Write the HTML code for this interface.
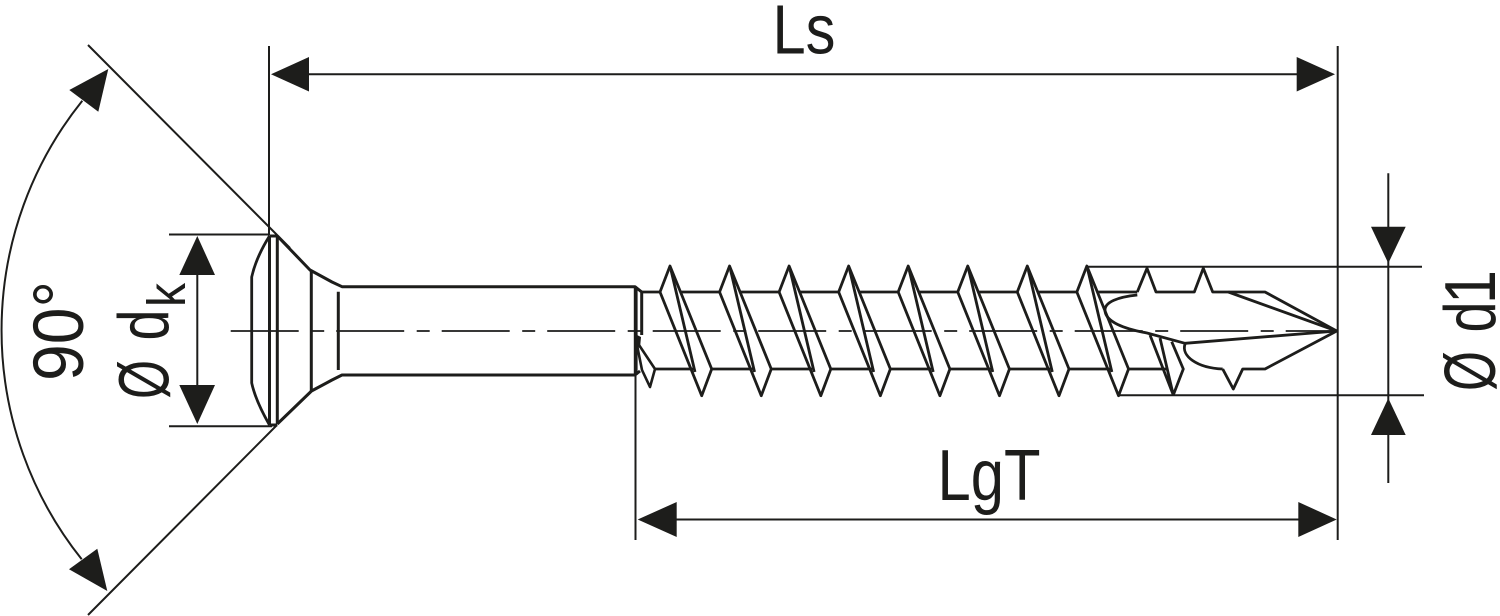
<!DOCTYPE html>
<html><head><meta charset="utf-8"><style>
html,body{margin:0;padding:0;background:#fff;width:1500px;height:616px;overflow:hidden}
svg{display:block}
text{font-family:"Liberation Sans",sans-serif;fill:#1d1d1b}
</style></head><body>
<svg width="1500" height="616" viewBox="0 0 1500 616" xmlns="http://www.w3.org/2000/svg">
<rect width="1500" height="616" fill="#fff"/>
<defs>
<g id="th" fill="none" stroke="#1d1d1b" stroke-width="2.8" stroke-linejoin="round">
<path d="M660 292L670 266L711.7 369L701.7 395.7Z"/>
<path d="M671 270L695 372"/>
</g>
</defs>
<!-- centre line -->
<path d="M230.7 331H1337" stroke="#1d1d1b" stroke-width="1.8" stroke-dasharray="68 12.5 13 12" fill="none"/>
<!-- dimension lines -->
<g stroke="#1d1d1b" stroke-width="2" fill="none">
<path d="M269 46V235M1337.7 46V540M635.5 375V540"/>
<path d="M300 74.3H1310M665 519.5H1310"/>
<path d="M88 45L290 248M88 615L277 425"/>
<path d="M169 234.5H270M169 426.3H272"/>
<path d="M197.3 270V390"/>
<path d="M1388.3 173.3V483"/>
<path d="M1087 266.7H1422M1119 395.2H1424"/>
<path d="M82.3 100.7A367 367 0 0 0 81.7 559.3"/>
</g>
<!-- arrowheads -->
<g fill="#1d1d1b">
<path d="M271 74.3L309 57V91.5Z"/>
<path d="M1335 74.3L1296.7 57V91.5Z"/>
<path d="M637.7 519.5L676.7 502V537Z"/>
<path d="M1336.7 519.5L1298.3 502V537Z"/>
<path d="M197.3 236L179.3 275H215Z"/>
<path d="M197.3 424L179.3 385H215Z"/>
<path d="M1388.3 263.3L1371 226.7H1405.7Z"/>
<path d="M1388.3 398.3L1371 435H1405.7Z"/>
<path d="M108.3 69L69.3 90L98.3 111.7Z"/>
<path d="M107.3 591L69 569.3L97.3 548.7Z"/>
</g>
<!-- head and shank -->
<g fill="none" stroke="#1d1d1b" stroke-linejoin="round">
<path stroke-width="2.8" d="M269.5 236C262 248 255 262 251.7 277V383C255 398 262 412 269.5 425"/>
<path stroke-width="3" d="M269.5 236V425M277.3 236V424M269.5 236H277.3M269.5 425H277.3"/>
<path stroke-width="3" d="M277.3 236L310 270L332 282L342 286.7H635L641.7 292V335"/>
<path stroke-width="3" d="M277.3 424L311.5 391L332 380L342 375H635L640 371"/>
<path stroke-width="3" d="M311.3 270V391M338.3 291.7V370"/>
<path stroke-width="3.8" d="M635.7 287V375"/>
<path stroke-width="2.6" d="M637 342L655 369L650 387L642 370L637 345"/>
</g>
<path d="M635 334L641 337L640 348L636 346Z" fill="#1d1d1b"/>
<!-- threads -->
<use href="#th"/>
<use href="#th" transform="translate(59.55 0)"/>
<use href="#th" transform="translate(119.1 0)"/>
<use href="#th" transform="translate(178.65 0)"/>
<use href="#th" transform="translate(238.2 0)"/>
<use href="#th" transform="translate(297.75 0)"/>
<use href="#th" transform="translate(357.3 0)"/>
<use href="#th" transform="translate(416.85 0)"/>
<g fill="none" stroke="#1d1d1b" stroke-width="2.8" stroke-linejoin="round">
<path d="M641.7 292H660M680.5 292H719.6M740 292H779.1M799.6 292H838.7M859.2 292H898.2M918.7 292H957.8M978.3 292H1017.3M1037.8 292H1076.9M1097.4 292H1137.3"/>
<path d="M655 369H693M711.7 369H752.6M771.2 369H812M830.8 369H871.7M890.3 369H931.2M949.9 369H990.8M1009.4 369H1050.3M1069 369H1110M1128.3 369H1166.7"/>
<!-- tip -->
<path d="M1137.3 292L1147 268.3L1156 292H1194.3L1203.3 268.3L1212.7 292H1265L1336.7 331L1265 369H1242.7L1233.3 389L1222.7 369"/>
<path d="M1228.3 292L1336.7 331"/>
<path d="M1137.3 295C1118 297 1105 302 1105 310C1105 322 1125 329 1147 333L1185 343.3L1336.7 331"/>
<path d="M1185 344C1181 356 1197 368 1222.7 369"/>
<path d="M1150 335L1173.3 395M1160 338L1173.3 395M1171.7 341.7L1183.3 369L1173.3 395"/>
</g>
<!-- labels -->
<text x="772.5" y="53.3" font-size="70" textLength="63" lengthAdjust="spacingAndGlyphs">Ls</text>
<text x="937.5" y="500" font-size="72" textLength="103" lengthAdjust="spacingAndGlyphs">LgT</text>
<text transform="translate(83 381) rotate(-90)" font-size="71" textLength="100" lengthAdjust="spacingAndGlyphs">90°</text>
<text transform="translate(168.5 399) rotate(-90)" font-size="71" textLength="39" lengthAdjust="spacingAndGlyphs">Ø</text>
<text transform="translate(168.5 340.5) rotate(-90)" font-size="71" textLength="31" lengthAdjust="spacingAndGlyphs">d</text>
<text transform="translate(185 307) rotate(-90)" font-size="54" textLength="24" lengthAdjust="spacingAndGlyphs">k</text>
<text transform="translate(1495 391) rotate(-90)" font-size="72" textLength="40" lengthAdjust="spacingAndGlyphs">Ø</text>
<text transform="translate(1495 332.5) rotate(-90)" font-size="72" textLength="31" lengthAdjust="spacingAndGlyphs">d</text>
<text transform="translate(1495 304) rotate(-90)" font-size="72" textLength="34" lengthAdjust="spacingAndGlyphs">1</text>
</svg>
</body></html>
